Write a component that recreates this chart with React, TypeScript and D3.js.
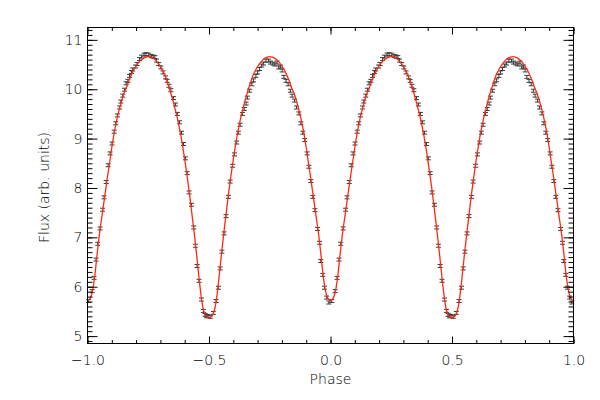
import React, { useEffect, useRef } from 'react';
import * as d3 from 'd3';

// one period of the folded light curve (phase 0..1), repeated at phase - 1
const obsPhase = [
  0.005, 0.019, 0.027, 0.035, 0.042, 0.052, 0.062, 0.068, 0.077, 0.085,
  0.093, 0.101, 0.110, 0.116, 0.123, 0.132, 0.137, 0.145, 0.152, 0.159,
  0.166, 0.173, 0.181, 0.186, 0.198, 0.204, 0.214, 0.222, 0.233, 0.241,
  0.252, 0.263, 0.270, 0.277, 0.284, 0.293, 0.302, 0.311, 0.321, 0.328,
  0.335, 0.343, 0.354, 0.362, 0.370, 0.379, 0.387, 0.395, 0.403, 0.410,
  0.418, 0.428, 0.437, 0.444, 0.451, 0.459, 0.469, 0.477, 0.484, 0.490,
  0.496, 0.505, 0.518, 0.529, 0.539, 0.546, 0.553, 0.562, 0.570, 0.580,
  0.587, 0.597, 0.605, 0.614, 0.621, 0.628, 0.638, 0.645, 0.653, 0.658,
  0.667, 0.676, 0.683, 0.693, 0.700, 0.708, 0.717, 0.724, 0.734, 0.745,
  0.753, 0.763, 0.771, 0.780, 0.787, 0.794, 0.801, 0.808, 0.817, 0.826,
  0.835, 0.842, 0.852, 0.860, 0.870, 0.878, 0.886, 0.894, 0.904, 0.911,
  0.919, 0.927, 0.936, 0.947, 0.955, 0.960, 0.968, 0.975, 0.984, 0.993,
];
const obsFlux = [
  5.71, 5.91, 6.18, 6.55, 6.87, 7.18, 7.56, 7.81, 8.12, 8.46,
  8.70, 8.90, 9.14, 9.31, 9.47, 9.63, 9.75, 9.87, 9.99, 10.12,
  10.17, 10.27, 10.35, 10.40, 10.46, 10.51, 10.61, 10.66, 10.70, 10.71,
  10.70, 10.67, 10.66, 10.65, 10.58, 10.51, 10.44, 10.34, 10.24, 10.17,
  10.07, 9.98, 9.82, 9.69, 9.50, 9.33, 9.12, 8.89, 8.60, 8.30,
  7.91, 7.66, 7.20, 6.83, 6.42, 6.12, 5.74, 5.51, 5.43, 5.40,
  5.41, 5.39, 5.47, 5.71, 5.98, 6.37, 6.71, 7.08, 7.43, 7.82,
  8.13, 8.45, 8.68, 8.92, 9.12, 9.28, 9.50, 9.60, 9.71, 9.83,
  9.97, 10.10, 10.18, 10.27, 10.34, 10.41, 10.48, 10.52, 10.58, 10.58,
  10.54, 10.52, 10.50, 10.54, 10.44, 10.46, 10.38, 10.25, 10.17, 10.10,
  9.97, 9.87, 9.77, 9.63, 9.51, 9.31, 9.12, 8.97, 8.70, 8.43,
  8.14, 7.82, 7.55, 7.17, 6.89, 6.52, 6.24, 5.98, 5.78, 5.68,
];
const obsErr = 0.03;

// model, phase 0..0.5 in steps of 0.01 (symmetric about 0 and 0.5)
const modelHalf = [
  5.72, 5.76, 5.90, 6.22, 6.68, 7.10, 7.45, 7.80, 8.15, 8.48,
  8.82, 9.12, 9.37, 9.58, 9.76, 9.92, 10.03, 10.17, 10.29, 10.39,
  10.47, 10.54, 10.59, 10.63, 10.65, 10.66, 10.65, 10.63, 10.59, 10.53,
  10.46, 10.37, 10.27, 10.12, 9.97, 9.80, 9.61, 9.41, 9.17, 8.90,
  8.58, 8.24, 7.87, 7.46, 7.05, 6.60, 6.13, 5.72, 5.48, 5.39,
  5.37,
];

const xMajor = [-1, -0.5, 0, 0.5, 1];
const yMajor = [5, 6, 7, 8, 9, 10, 11];

const App = () => {
  const ref = useRef<SVGSVGElement>(null);

  useEffect(() => {
    const svg = d3.select(ref.current);
    svg.selectAll('*').remove();

    const left = 87.5, right = 573.5, top = 27.5, bottom = 343.5;
    const x = d3.scaleLinear().domain([-1, 1]).range([left, right]);
    const y = d3.scaleLinear().domain([4.85, 11.25]).range([bottom, top]);
    const font = 'DejaVu Sans, sans-serif';

    // model line over -1..1
    const model: [number, number][] = [];
    for (let i = -100; i <= 100; i++) {
      let k = i < 0 ? i + 100 : i;
      if (k > 50) k = 100 - k;
      model.push([i / 100, modelHalf[k]]);
    }

    // observed points, folded twice
    const obs: [number, number][] = [];
    obsPhase.forEach((p, i) => {
      obs.push([p - 1, obsFlux[i]]);
      obs.push([p, obsFlux[i]]);
    });

    const pts = svg.append('g').attr('stroke', '#3a3a3a').attr('stroke-width', 1);
    obs.forEach(([p, f]) => {
      const cx = x(p);
      const y0 = y(f - obsErr), y1 = y(f + obsErr);
      pts.append('line').attr('x1', cx).attr('x2', cx).attr('y1', y0).attr('y2', y1);
      pts.append('line').attr('x1', cx - 2.5).attr('x2', cx + 2.5).attr('y1', y0).attr('y2', y0);
      pts.append('line').attr('x1', cx - 2.5).attr('x2', cx + 2.5).attr('y1', y1).attr('y2', y1);
    });

    const line = d3.line<[number, number]>()
      .x((d) => x(d[0]))
      .y((d) => y(d[1]))
      .curve(d3.curveMonotoneX);

    svg.append('path')
      .datum(model)
      .attr('d', line)
      .attr('fill', 'none')
      .attr('stroke', '#ff2a10')
      .attr('stroke-width', 1.3);

    const xMinor = d3.range(-10, 11).map((i) => i / 10);
    const yMinor = d3.range(49, 113).map((i) => i / 10);

    const style = (g: any) => {
      g.select('.domain').remove();
      g.selectAll('line').attr('stroke', '#000');
      g.selectAll('text')
        .attr('font-family', font)
        .attr('font-size', 14)
        .attr('font-weight', 200)
        .attr('fill', '#000');
    };

    // bottom
    svg.append('g').attr('transform', `translate(0,${bottom})`)
      .call(d3.axisBottom(x).tickValues(xMinor).tickSize(-3.5).tickFormat(() => ''))
      .call(style);
    svg.append('g').attr('transform', `translate(0,${bottom})`)
      .call(d3.axisBottom(x).tickValues(xMajor).tickSize(-7).tickPadding(12).tickFormat(d3.format('.1f')))
      .call(style);
    // top
    svg.append('g').attr('transform', `translate(0,${top})`)
      .call(d3.axisTop(x).tickValues(xMinor).tickSize(-3.5).tickFormat(() => ''))
      .call(style);
    svg.append('g').attr('transform', `translate(0,${top})`)
      .call(d3.axisTop(x).tickValues(xMajor).tickSize(-7).tickFormat(() => ''))
      .call(style);
    // left
    svg.append('g').attr('transform', `translate(${left},0)`)
      .call(d3.axisLeft(y).tickValues(yMinor).tickSize(-5).tickFormat(() => ''))
      .call(style);
    svg.append('g').attr('transform', `translate(${left},0)`)
      .call(d3.axisLeft(y).tickValues(yMajor).tickSize(-10).tickPadding(5).tickFormat(d3.format('d')))
      .call(style);
    // right
    svg.append('g').attr('transform', `translate(${right},0)`)
      .call(d3.axisRight(y).tickValues(yMinor).tickSize(-5).tickFormat(() => ''))
      .call(style);
    svg.append('g').attr('transform', `translate(${right},0)`)
      .call(d3.axisRight(y).tickValues(yMajor).tickSize(-10).tickFormat(() => ''))
      .call(style);

    svg.append('rect')
      .attr('x', left).attr('y', top)
      .attr('width', right - left).attr('height', bottom - top)
      .attr('fill', 'none').attr('stroke', '#000').attr('stroke-width', 1);

    svg.append('text')
      .attr('x', (left + right) / 2)
      .attr('y', 384)
      .attr('text-anchor', 'middle')
      .attr('font-family', font)
      .attr('font-size', 14)
      .attr('font-weight', 200)
      .text('Phase');

    svg.append('text')
      .attr('transform', `translate(49,${(top + bottom) / 2 + 2}) rotate(-90)`)
      .attr('text-anchor', 'middle')
      .attr('font-family', font)
      .attr('font-size', 14)
      .attr('font-weight', 200)
      .text('Flux (arb. units)');
  }, []);

  return (
    <svg
      ref={ref}
      width={600}
      height={400}
      style={{ position: 'absolute', left: 0, top: 0, background: '#fff' }}
    />
  );
};

export default App;
